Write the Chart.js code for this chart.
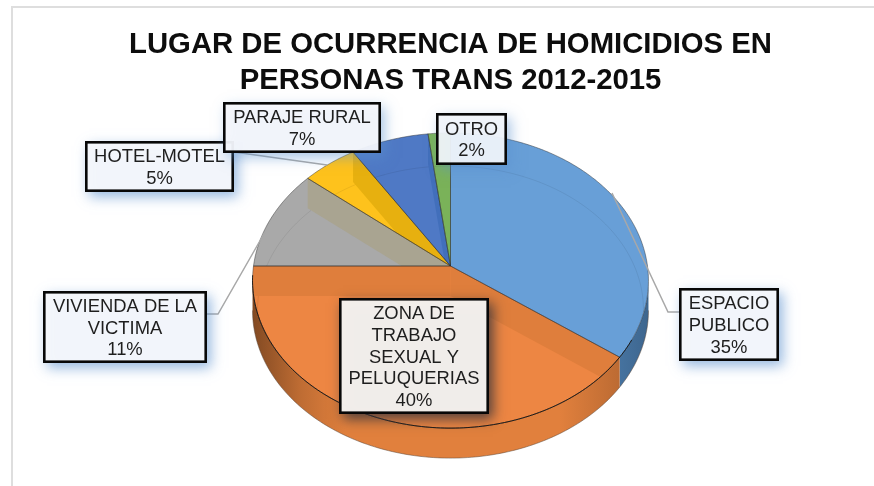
<!DOCTYPE html>
<html>
<head>
<meta charset="utf-8">
<title>Lugar de ocurrencia de homicidios</title>
<style>html,body{margin:0;padding:0;background:#fff;overflow:hidden}canvas{display:block}</style>
<script src="https://cdn.jsdelivr.net/npm/chart.js@4"></script>
</head>
<body>
<canvas id="c" width="874" height="486"></canvas>
<script>
// ---- data ----
const titleLines = ['LUGAR DE OCURRENCIA DE HOMICIDIOS EN', 'PERSONAS TRANS 2012-2015'];
const categories = ['ESPACIO PUBLICO', 'ZONA DE TRABAJO SEXUAL Y PELUQUERIAS', 'VIVIENDA DE LA VICTIMA', 'HOTEL-MOTEL', 'PARAJE RURAL', 'OTRO'];
const values = [35, 40, 11, 5, 7, 2];
const labelLines = [['ESPACIO', 'PUBLICO'], ['ZONA DE', 'TRABAJO', 'SEXUAL Y', 'PELUQUERIAS'], ['VIVIENDA DE LA', 'VICTIMA'], ['HOTEL-MOTEL'], ['PARAJE RURAL'], ['OTRO']];

// ---- styles ----
const topColors  = ['#689FD7', '#ED8643', '#A9A9A9', '#FEC21C', '#4F79C5', '#7AB259'];
const sideColors = ['#568DC4', '#E8843F', '#8F8F8F', '#D9A514', '#3F67A8', '#5F9A45'];
const wallColors = ['#689FD7', '#DF7E3C', '#A9A491', '#E7B00F', '#426FBB', '#7AB259'];
// callout boxes [left, top, right, bottom]
const boxes = [[679,288,779,361],[339,298,489,414],[43,291,207,363],[85,141,234,192],[223,102,381,153],[436,113,507,165]];
const boxFills = ['rgba(246,248,252,.96)','rgba(244,241,238,.98)','rgba(246,248,252,.96)','rgba(246,248,252,.96)','rgba(246,248,252,.93)','rgba(243,246,251,.92)'];
const boxShadows = ['rgba(91,145,205,.65)','rgba(50,50,60,.85)','rgba(91,145,205,.65)','rgba(91,145,205,.65)','rgba(91,145,205,.55)','rgba(91,145,205,.55)'];
// leader paths
const leaders = [[[679,312],[668,312],[612,193]],[],[[207,314],[218,314],[265,232]],[[234,152],[327,165]],[],[]];
const sideStops = [[250,.55],[300,.82],[345,.97],[560,.97],[625,.8],[650,.72]];
const DEPTH = 30, TILT_K = 0.0983, TILT_B = 0.742, FRONT_FROM = 0.098;
const FONT = '"Liberation Sans", Arial, sans-serif';

function project(arc, a, dy, rs) {
  const s = rs || 1, u = Math.cos(a) * s, v = Math.sin(a) * s;
  const d = 1 - TILT_K * v;
  return { x: arc.x + arc.outerRadius * u / d, y: arc.y + arc.outerRadius * TILT_B * v / d + (dy || 0) };
}
function traceRim(ctx, arc, from, to, dy, rs, move) {
  const n = Math.max(2, Math.ceil(Math.abs(to - from) / (Math.PI / 180)));
  for (let i = 0; i <= n; i++) {
    const p = project(arc, from + (to - from) * i / n, dy, rs);
    if (i === 0 && move) ctx.moveTo(p.x, p.y); else ctx.lineTo(p.x, p.y);
  }
}
function traceSlice(ctx, arc) {
  ctx.beginPath();
  ctx.moveTo(arc.x, arc.y);
  traceRim(ctx, arc, arc.startAngle, arc.endAngle, 0, 1, false);
  ctx.closePath();
}
function shade(hex, f) {
  const n = parseInt(hex.slice(1), 16);
  return `rgb(${(n >> 16 & 255) * f | 0},${(n >> 8 & 255) * f | 0},${(n & 255) * f | 0})`;
}

const pie3d = {
  id: 'pie3d',
  beforeDraw(chart) {
    const ctx = chart.ctx;
    ctx.save();
    ctx.strokeStyle = '#DEDEDE'; ctx.lineWidth = 2;
    ctx.beginPath(); ctx.moveTo(12, 486); ctx.lineTo(12, 7); ctx.lineTo(874, 7); ctx.stroke();
    ctx.restore();
  },
  beforeDatasetsDraw(chart) {
    const ctx = chart.ctx, arcs = chart.getDatasetMeta(0).data;
    ctx.save();
    // outer side wall: only the front of the rim shows
    const aMin = Math.asin(FRONT_FROM), aMax = Math.PI - aMin;
    arcs.forEach((arc, i) => {
      const from = Math.max(arc.startAngle, aMin), to = Math.min(arc.endAngle, aMax);
      if (to <= from) return;
      const g = ctx.createLinearGradient(sideStops[0][0], 0, sideStops[sideStops.length - 1][0], 0);
      const span = sideStops[sideStops.length - 1][0] - sideStops[0][0];
      sideStops.forEach(s => g.addColorStop((s[0] - sideStops[0][0]) / span, shade(sideColors[i], s[1])));
      ctx.beginPath();
      traceRim(ctx, arc, from, to, 0, 1, true);
      traceRim(ctx, arc, to, from, DEPTH, 1, false);
      ctx.closePath();
      ctx.fillStyle = g; ctx.fill();
    });
    // lower silhouette
    const a0 = arcs[0];
    ctx.beginPath();
    traceRim(ctx, a0, aMin, aMax, DEPTH, 1, true);
    ctx.strokeStyle = 'rgba(90,70,55,.5)'; ctx.lineWidth = 1; ctx.stroke();
    // top faces with see-through inner walls and floor rim
    arcs.forEach((arc, i) => {
      traceSlice(ctx, arc);
      ctx.fillStyle = topColors[i]; ctx.fill();
      ctx.save();
      traceSlice(ctx, arc); ctx.clip();
      [arc.startAngle, arc.endAngle].forEach(a => {
        const p = project(arc, a);
        ctx.beginPath();
        ctx.moveTo(arc.x, arc.y); ctx.lineTo(p.x, p.y);
        ctx.lineTo(p.x, p.y + DEPTH); ctx.lineTo(arc.x, arc.y + DEPTH);
        ctx.closePath();
        ctx.fillStyle = wallColors[i]; ctx.fill();
      });
      ctx.beginPath();
      traceRim(ctx, arc, arc.startAngle, arc.endAngle, DEPTH, 0.975, true);
      ctx.strokeStyle = 'rgba(0,0,0,.07)'; ctx.lineWidth = 1; ctx.stroke();
      ctx.restore();
    });
    // outlines
    arcs.forEach(arc => {
      traceSlice(ctx, arc);
      ctx.strokeStyle = 'rgba(45,45,45,.5)'; ctx.lineWidth = 0.9; ctx.stroke();
    });
    ctx.beginPath();
    traceRim(ctx, a0, Math.PI * 0.16, Math.PI * 0.98, 0, 1, true);
    ctx.strokeStyle = 'rgba(10,10,10,.85)'; ctx.lineWidth = 1; ctx.stroke();
    ctx.restore();
    return false;
  },
  afterDraw(chart) {
    const ctx = chart.ctx, total = values.reduce((s, v) => s + v, 0);
    ctx.save();
    ctx.strokeStyle = '#A8A8A8'; ctx.lineWidth = 1.5;
    leaders.forEach(l => {
      if (!l.length) return;
      ctx.beginPath();
      l.forEach((p, j) => j ? ctx.lineTo(p[0], p[1]) : ctx.moveTo(p[0], p[1]));
      ctx.stroke();
    });
    const order = [0, 2, 3, 4, 5, 1];
    order.forEach(i => {
      const [l, t, r, b] = boxes[i], w = r - l, h = b - t, lw = 2.6;
      ctx.save();
      ctx.shadowColor = boxShadows[i]; ctx.shadowBlur = 12; ctx.shadowOffsetX = 4; ctx.shadowOffsetY = 5;
      ctx.fillStyle = boxFills[i];
      ctx.fillRect(l, t, w, h);
      ctx.restore();
      ctx.strokeStyle = '#080808'; ctx.lineWidth = lw;
      ctx.strokeRect(l + lw / 2, t + lw / 2, w - lw, h - lw);
      const lines = labelLines[i].concat(Math.round(values[i] / total * 100) + '%');
      const lh = 21.7, cx = (l + r) / 2, cy = (t + b) / 2;
      ctx.fillStyle = '#1E1E1E';
      ctx.font = '18.4px ' + FONT;
      ctx.textAlign = 'center'; ctx.textBaseline = 'middle';
      lines.forEach((s, j) => ctx.fillText(s, cx, cy + (j - (lines.length - 1) / 2) * lh + 1.5));
    });
    ctx.restore();
  }
};

new Chart(document.getElementById('c'), {
  type: 'pie',
  data: { labels: categories, datasets: [{ data: values, backgroundColor: topColors, borderWidth: 0, radius: 197 }] },
  options: {
    responsive: false,
    animation: false,
    layout: { padding: { left: 27, bottom: 53 } },
    plugins: {
      legend: { display: false },
      tooltip: { enabled: false },
      title: {
        display: true, text: titleLines, fullSize: false, color: '#0D0D0D',
        font: { family: FONT, size: 29.3, weight: 'bold', lineHeight: 36 / 29.3 },
        padding: { top: 27, bottom: 0 }
      }
    }
  },
  plugins: [pie3d]
});
</script>
</body>
</html>
